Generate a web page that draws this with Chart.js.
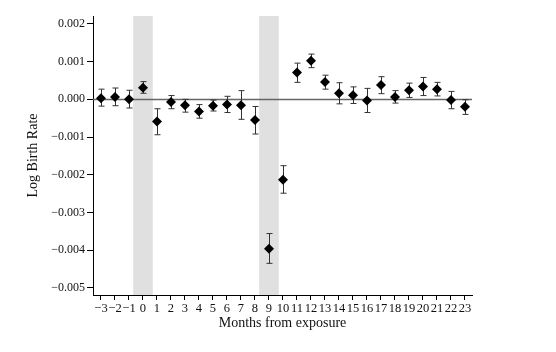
<!DOCTYPE html>
<html>
<head>
<meta charset="utf-8">
<script src="https://cdn.jsdelivr.net/npm/chart.js@4.4.1/dist/chart.umd.min.js"></script>
<style>
  html, body { margin: 0; padding: 0; background: #fff; }
  #wrap { width: 556px; height: 352px; }
</style>
</head>
<body>
<div id="wrap"><canvas id="chart" width="556" height="352"></canvas></div>
<script>
// months relative to exposure
const months = [-3, -2, -1, 0, 1, 2, 3, 4, 5, 6, 7, 8, 9, 10, 11, 12, 13, 14, 15, 16, 17, 18, 19, 20, 21, 22, 23];
// point estimates
const estimates = [0.00003, 0.00006, 0.0, 0.00031, -0.00059, -0.00007, -0.00016, -0.00032, -0.00017, -0.00014, -0.00016, -0.00055, -0.00396, -0.00213,
    0.00071, 0.00102, 0.00046, 0.00016, 0.00011, -0.00003, 0.00038, 0.00006, 0.00024, 0.00034, 0.00027, -0.00002, -0.0002];
// confidence interval upper / lower
const ciUpper = [0.00027, 0.0003, 0.00024, 0.00047, -0.00025, 0.0001, 0.0, -0.00014, -0.00002, 0.00008, 0.00023, -0.00019, -0.00356, -0.00176,
    0.00096, 0.0012, 0.00064, 0.00044, 0.00033, 0.00029, 0.0006, 0.00023, 0.00043, 0.00058, 0.00045, 0.00021, -0.00001];
const ciLower = [-0.00018, -0.00017, -0.00023, 0.00016, -0.00094, -0.00025, -0.00034, -0.0005, -0.00031, -0.00035, -0.00053, -0.00092, -0.00435, -0.00249,
    0.00045, 0.00084, 0.00027, -0.00012, -0.00011, -0.00035, 0.00015, -0.0001, 0.00005, 0.0001, 0.00009, -0.00025, -0.0004];
// shaded windows (month ranges)
const bands = [[-0.7, 0.7], [8.3, 9.7]];
const xTicks = months;
const yTicks = [0.002, 0.001, 0, -0.001, -0.002, -0.003, -0.004, -0.005];

const FONT = "'Liberation Serif', 'Times New Roman', serif";

function fmtNum(v, digits) {
    const s = Math.abs(v).toFixed(digits);
    return (v < -1e-12 ? '\u2212' : '') + s;
}

/**
 * Shaded bands, zero line and error bars behind the points
 */
const backdropPlugin = {
    id: 'backdrop',
    beforeDatasetsDraw(chart) {
        const { ctx, chartArea, scales } = chart;
        ctx.save();
        ctx.fillStyle = '#e0e0e0';
        bands.forEach(b => {
            const x0 = scales.x.getPixelForValue(b[0]);
            const x1 = scales.x.getPixelForValue(b[1]);
            ctx.fillRect(x0, chartArea.top, x1 - x0, chartArea.bottom - chartArea.top);
        });
        const y0 = Math.round(scales.y.getPixelForValue(0)) + 0.5;
        ctx.strokeStyle = '#666';
        ctx.lineWidth = 1.4;
        ctx.beginPath();
        ctx.moveTo(chartArea.left, y0);
        ctx.lineTo(chartArea.right, y0);
        ctx.stroke();

        // error bars
        ctx.strokeStyle = '#333';
        ctx.lineWidth = 1;
        months.forEach((m, i) => {
            const x = Math.round(scales.x.getPixelForValue(m)) + 0.5;
            const yt = scales.y.getPixelForValue(ciUpper[i]);
            const yb = scales.y.getPixelForValue(ciLower[i]);
            ctx.beginPath();
            ctx.moveTo(x, yt); ctx.lineTo(x, yb);
            ctx.moveTo(x - 3, yt); ctx.lineTo(x + 3, yt);
            ctx.moveTo(x - 3, yb); ctx.lineTo(x + 3, yb);
            ctx.stroke();
        });
        ctx.restore();
    }
};

new Chart(document.getElementById('chart'), {
    type: 'scatter',
    data: {
        datasets: [{
            data: months.map((m, i) => ({ x: m, y: estimates[i] })),
            pointStyle: 'rectRot',
            pointRadius: 5,
            backgroundColor: '#000',
            borderColor: '#000',
            borderWidth: 0
        }]
    },
    options: {
        responsive: false,
        animation: false,
        layout: { padding: { left: 25, right: 84, top: 16, bottom: 20 } },
        plugins: { legend: { display: false }, tooltip: { enabled: false } },
        scales: {
            x: {
                type: 'linear',
                min: -3.57,
                max: 23.5,
                afterBuildTicks: s => { s.ticks = xTicks.map(v => ({ value: v })); },
                afterFit: s => { s.height = 37; },
                ticks: {
                    autoSkip: false,
                    maxRotation: 0,
                    padding: 1,
                    color: '#111',
                    font: { family: FONT, size: 12.5 },
                    callback: v => fmtNum(v, 0)
                },
                grid: { drawOnChartArea: false, tickLength: 5, color: '#000', tickWidth: 1 },
                border: { display: true, color: '#000', width: 1 },
                title: {
                    display: true,
                    text: 'Months from exposure',
                    color: '#111',
                    padding: 0,
                    font: { family: FONT, size: 14 }
                }
            },
            y: {
                min: -0.00519,
                max: 0.00221,
                afterBuildTicks: s => { s.ticks = yTicks.map(v => ({ value: v })); },
                afterFit: s => { s.width = 68; },
                ticks: {
                    padding: 2,
                    color: '#111',
                    font: { family: FONT, size: 12 },
                    callback: v => fmtNum(v, 3)
                },
                grid: { drawOnChartArea: false, tickLength: 6, color: '#000', tickWidth: 1 },
                border: { display: true, color: '#000', width: 1 },
                title: {
                    display: true,
                    text: 'Log Birth Rate',
                    color: '#111',
                    padding: 0,
                    font: { family: FONT, size: 14 }
                }
            }
        }
    },
    plugins: [backdropPlugin]
});
</script>
</body>
</html>
